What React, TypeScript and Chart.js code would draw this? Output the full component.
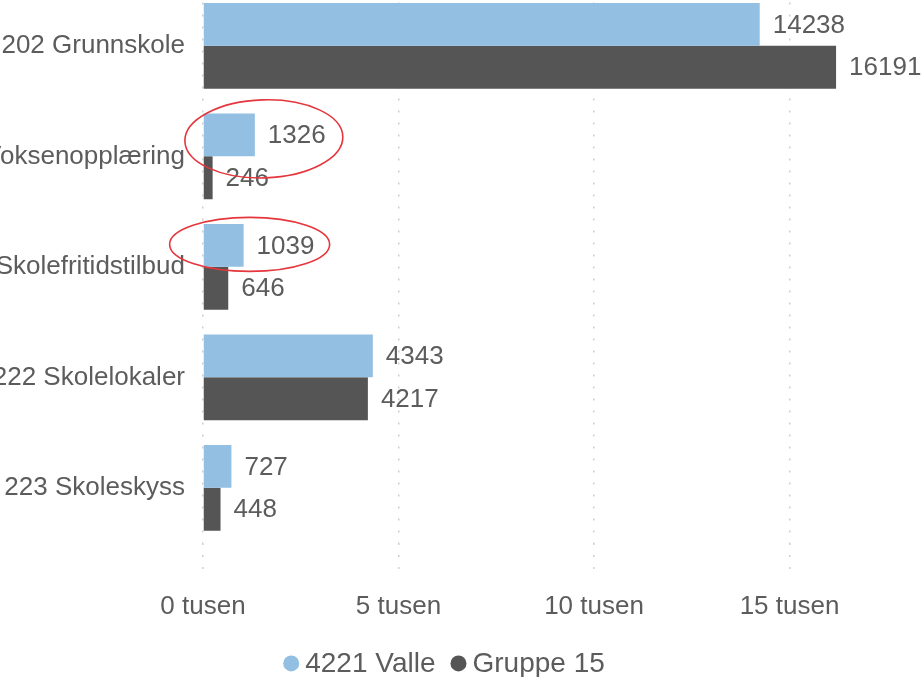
import { useEffect, useRef } from "react";
import { Chart, registerables } from "chart.js";

Chart.register(...registerables);

const categories = [
  "202 Grunnskole",
  "213 Voksenopplæring",
  "215 Skolefritidstilbud",
  "222 Skolelokaler",
  "223 Skoleskyss",
];
const valleValues = [14238, 1326, 1039, 4343, 727];
const gruppeValues = [16191, 246, 646, 4217, 448];
const seriesNames = ["4221 Valle", "Gruppe 15"];
const seriesColors = ["#93bfe2", "#555555"];
const xTickValues = [0, 5000, 10000, 15000];
const xTickSuffix = " tusen";
const highlightedCategories = [1, 2];

const FONT = "'Liberation Sans', Arial, Helvetica, sans-serif";
const TEXT = "#5c5c5c";

const valueLabelPlugin = {
  id: "valueLabels",
  afterDatasetsDraw(chart: any) {
    const ctx = chart.ctx;
    ctx.save();
    ctx.font = `26px ${FONT}`;
    ctx.fillStyle = TEXT;
    ctx.textAlign = "left";
    ctx.textBaseline = "middle";
    chart.data.datasets.forEach((ds: any, di: number) => {
      const meta = chart.getDatasetMeta(di);
      meta.data.forEach((el: any, i: number) => {
        ctx.fillText(String(ds.data[i]), el.x + 13, el.y + 1);
      });
    });
    ctx.restore();
  },
};

const ellipseShapes = [
  { dx: 9, dy: 4, rx: 79, ry: 39, rot: -0.03 },
  { dx: 6, dy: -1, rx: 80, ry: 27, rot: 0 },
];

const highlightPlugin = {
  id: "highlight",
  afterDatasetsDraw(chart: any) {
    const ctx = chart.ctx;
    const meta = chart.getDatasetMeta(0);
    ctx.save();
    ctx.strokeStyle = "#e4363c";
    ctx.lineWidth = 1.6;
    highlightedCategories.forEach((ci, k) => {
      const el = meta.data[ci];
      const s = ellipseShapes[k % ellipseShapes.length];
      ctx.beginPath();
      ctx.ellipse(el.x + s.dx, el.y + s.dy, s.rx, s.ry, s.rot, 0, Math.PI * 2);
      ctx.stroke();
    });
    ctx.restore();
  },
};

const legendPlugin = {
  id: "customLegend",
  afterDraw(chart: any) {
    const ctx = chart.ctx;
    ctx.save();
    ctx.font = `28px ${FONT}`;
    ctx.textBaseline = "middle";
    ctx.textAlign = "left";
    const r = 8;
    const gapCircleText = 6;
    const gapItems = 15;
    const items = chart.data.datasets.map((ds: any) => ({
      label: ds.label,
      color: ds.backgroundColor,
      w: ctx.measureText(ds.label).width,
    }));
    const total = items.reduce(
      (s: number, it: any, i: number) => s + 2 * r + gapCircleText + it.w + (i > 0 ? gapItems : 0),
      0
    );
    const cx = chart.chartArea.left + 241;
    const y = chart.scales.x.bottom + 26.9;
    let x = cx - total / 2;
    items.forEach((it: any, i: number) => {
      if (i > 0) x += gapItems;
      ctx.beginPath();
      ctx.fillStyle = it.color;
      ctx.arc(x + r, y, r, 0, Math.PI * 2);
      ctx.fill();
      x += 2 * r + gapCircleText;
      ctx.fillStyle = TEXT;
      ctx.fillText(it.label, x, y + 1);
      x += it.w;
    });
    ctx.restore();
  },
};

export default function App() {
  const ref = useRef<HTMLCanvasElement | null>(null);

  useEffect(() => {
    if (!ref.current) return;
    const chart = new Chart(ref.current, {
      type: "bar",
      data: {
        labels: categories,
        datasets: [
          {
            label: seriesNames[0],
            data: valleValues,
            backgroundColor: seriesColors[0],
            barPercentage: 1,
            categoryPercentage: 0.777,
          },
          {
            label: seriesNames[1],
            data: gruppeValues,
            backgroundColor: seriesColors[1],
            barPercentage: 1,
            categoryPercentage: 0.777,
          },
        ],
      },
      options: {
        indexAxis: "y",
        responsive: false,
        animation: false,
        devicePixelRatio: 1,
        layout: { padding: { top: 0, right: 16.2, bottom: 40.5, left: 0 } },
        plugins: {
          legend: { display: false },
          tooltip: { enabled: false },
        },
        scales: {
          x: {
            min: 0,
            max: 18000,
            afterBuildTicks: (s: any) => {
              s.ticks = xTickValues.map((v) => ({ value: v }));
            },
            ticks: {
              callback: (v: any) => `${Number(v) / 1000}${xTickSuffix}`,
              font: { family: FONT, size: 26 },
              color: TEXT,
              padding: 13.6,
              maxRotation: 0,
              autoSkip: false,
            },
            grid: {
              color: "#cfcfcf",
              lineWidth: 1.5,
              tickLength: 35,
              tickColor: "#cfcfcf",
              tickWidth: 1.5,
              tickBorderDash: [2, 10],
            },
            border: { display: false, dash: [2, 10] },
          },
          y: {
            afterFit: (s: any) => {
              s.width = 300;
            },
            grid: { display: false, drawTicks: false },
            border: { display: false },
            ticks: {
              font: { family: FONT, size: 26 },
              color: TEXT,
              padding: 18,
            },
          },
        },
      },
      plugins: [valueLabelPlugin, highlightPlugin, legendPlugin],
    } as any);
    return () => chart.destroy();
  }, []);

  return (
    <div
      style={{
        position: "fixed",
        left: 0,
        top: 0,
        width: 922,
        height: 680,
        overflow: "hidden",
        background: "#fff",
      }}
    >
      <canvas
        ref={ref}
        width={1020}
        height={720}
        style={{ position: "absolute", left: -97, top: -43.4, width: 1020, height: 720 }}
      />
    </div>
  );
}
